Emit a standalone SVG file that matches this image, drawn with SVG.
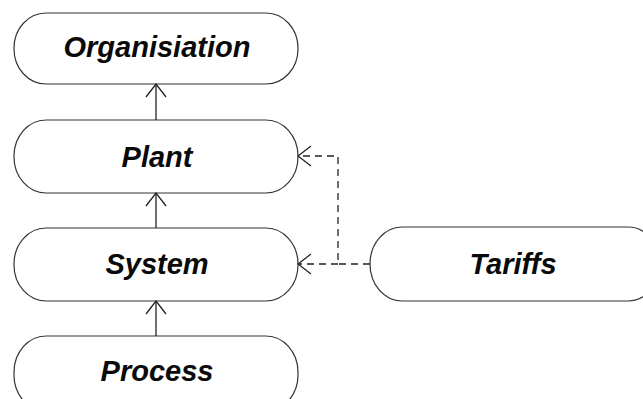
<svg xmlns="http://www.w3.org/2000/svg" width="643" height="399" viewBox="0 0 643 399">
<defs>
<style>
.n{fill:#fff;stroke:#333;stroke-width:1.2}
.t{font-family:"Liberation Sans",Arial,sans-serif;font-weight:bold;font-style:italic;font-size:29px;fill:#0a0a0a;text-anchor:middle}
.c{fill:none;stroke:#222;stroke-width:1.3}
.d{stroke-dasharray:7,5}
</style>
<marker id="a" markerWidth="16" markerHeight="22" refX="15" refY="11" orient="auto" markerUnits="userSpaceOnUse">
<path d="M2,1 L15,11 L2,21" fill="none" stroke="#222" stroke-width="1.3"/>
</marker>
</defs>
<rect width="643" height="399" fill="#fff"/>
<g id="organisiation"><rect class="n" x="14" y="13" width="284" height="71" rx="32" ry="35"/><text class="t" x="157" y="57">Organisiation</text></g>
<g id="plant"><rect class="n" x="14" y="120" width="284" height="73" rx="32" ry="36"/><text class="t" x="157" y="167">Plant</text></g>
<g id="system"><rect class="n" x="14" y="228" width="284" height="73" rx="32" ry="36"/><text class="t" x="157" y="274">System</text></g>
<g id="process"><rect class="n" x="14" y="336" width="284" height="75" rx="32" ry="36"/><text class="t" x="157" y="381">Process</text></g>
<g id="tariffs"><rect class="n" x="370" y="227" width="290" height="74" rx="32" ry="37"/><text class="t" x="513" y="274">Tariffs</text></g>
<g id="connectors">
<line class="c" x1="156" y1="120" x2="156" y2="84" marker-end="url(#a)"/>
<line class="c" x1="156" y1="228" x2="156" y2="193" marker-end="url(#a)"/>
<line class="c" x1="156" y1="336" x2="156" y2="301" marker-end="url(#a)"/>
<polyline class="c d" points="370,264 338,264 338,156 298,156" marker-end="url(#a)"/>
<line class="c d" x1="338" y1="264" x2="298" y2="264" marker-end="url(#a)"/>
</g>
</svg>
